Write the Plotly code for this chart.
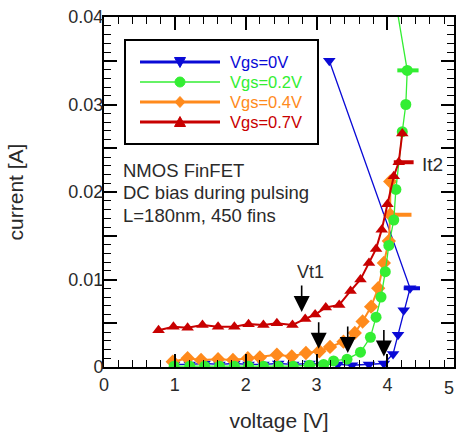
import plotly.graph_objects as go

# ---------------- data ----------------
series_names = ["Vgs=0V", "Vgs=0.2V", "Vgs=0.4V", "Vgs=0.7V"]

blue_v = [0.99, 1.21, 1.42, 1.63, 1.84, 2.04, 2.25, 2.46, 2.67, 2.90, 3.10, 3.30, 3.50, 3.74, 3.95, 4.08, 4.15, 4.23, 4.32, 3.18]
blue_i = [0.0003, 0.0003, 0.0004, 0.0003, 0.0004, 0.0003, 0.0003, 0.0004, 0.0003, 0.0004, 0.0003, 0.0003, 0.0002, 0.0003, 0.0004, 0.0015, 0.0037, 0.0065, 0.0090, 0.0350]

green_v = [0.99, 1.21, 1.42, 1.63, 1.84, 2.04, 2.25, 2.46, 2.67, 2.90, 3.10, 3.24, 3.43, 3.62, 3.76, 3.84, 3.91, 3.97, 4.02, 4.09, 4.12, 4.21, 4.26, 4.28, 4.05]
green_i = [0.0001, 0.0001, 0.0001, 0.0001, 0.0001, 0.0001, 0.0001, 0.0001, 0.0001, 0.0002, 0.0003, 0.0007, 0.0009, 0.0017, 0.0034, 0.0057, 0.0080, 0.0109, 0.0139, 0.0168, 0.0203, 0.0269, 0.0300, 0.0339, 0.0450]

orange_v = [0.97, 1.18, 1.37, 1.61, 1.82, 2.03, 2.20, 2.44, 2.65, 2.85, 3.04, 3.19, 3.38, 3.54, 3.65, 3.77, 3.87, 3.95, 4.02, 4.04, 4.04]
orange_i = [0.0006, 0.0010, 0.0008, 0.0009, 0.0008, 0.0010, 0.0011, 0.0014, 0.0012, 0.0016, 0.0018, 0.0023, 0.0029, 0.0039, 0.0052, 0.0069, 0.0090, 0.0119, 0.0144, 0.0174, 0.0212]

red_v = [0.77, 0.98, 1.18, 1.39, 1.61, 1.84, 2.04, 2.25, 2.44, 2.66, 2.84, 2.98, 3.13, 3.32, 3.48, 3.62, 3.74, 3.84, 3.92, 4.00, 4.09, 4.16, 4.21]
red_i = [0.0042, 0.0046, 0.0045, 0.0048, 0.0046, 0.0046, 0.0049, 0.0048, 0.0050, 0.0048, 0.0055, 0.0060, 0.0068, 0.0071, 0.0087, 0.0100, 0.0119, 0.0135, 0.0157, 0.0186, 0.0218, 0.0234, 0.0267]

# It2 points (index into each series) and horizontal bar extents [V]
it2_index = {"blue": 18, "green": 23, "orange": 19, "red": 21}
it2_plus = {"blue": 0.14, "green": 0.16, "orange": 0.30, "red": 0.21}
it2_minus = {"blue": 0.09, "green": 0.14, "orange": 0.05, "red": 0.07}

# Vt1 arrows (tip positions)
vt1_v = [2.79, 3.03, 3.44, 3.95]
vt1_i = [0.0063, 0.0021, 0.0016, 0.0012]

x_tickvals = [0, 1, 2, 3, 4, 5]
y_tickvals = [0, 0.005, 0.01, 0.015, 0.02, 0.025, 0.03, 0.035, 0.04]
y_ticktext = ["0", "", "0.01", "", "0.02", "", "0.03", "", "0.04"]

info_lines = ["NMOS FinFET", "DC bias during pulsing", "L=180nm, 450 fins"]

# ---------------- style ----------------
FONT = "Liberation Sans, Arial, Helvetica, sans-serif"
TXT = "#2a2a2a"
colors = {"blue": "#0a0ad6", "green": "#33ee33", "orange": "#ff8a1c", "red": "#c80000"}
symbols = {"blue": "triangle-down", "green": "circle", "orange": "diamond", "red": "triangle-up"}
msize = {"blue": 11, "green": 11, "orange": 11, "red": 11}
lwidth = {"blue": 1.3, "green": 1.3, "orange": 2.0, "red": 2.0}
data = {"blue": (blue_v, blue_i), "green": (green_v, green_i),
        "orange": (orange_v, orange_i), "red": (red_v, red_i)}
keys = ["blue", "green", "orange", "red"]

W, H = 456, 432
PL, PR, PT, PB = 104, 454, 17, 367   # plot area in window pixels


def px(sx):
    return (sx - PL) / (PR - PL)


def py(sy):
    return (PB - sy) / (PB - PT)


fig = go.Figure()

# data traces in drawing order (bottom -> top)
for k in ["blue", "orange", "green", "red"]:
    v, i = data[k]
    plus = [0.0] * len(v)
    minus = [0.0] * len(v)
    plus[it2_index[k]] = it2_plus[k]
    minus[it2_index[k]] = it2_minus[k]
    fig.add_trace(go.Scatter(
        x=v, y=i, mode="lines+markers", showlegend=False,
        line=dict(color=colors[k], width=lwidth[k]),
        marker=dict(symbol=symbols[k], size=msize[k], color=colors[k]),
        error_x=dict(type="data", symmetric=False, array=plus, arrayminus=minus,
                     color=colors[k], thickness=4, width=0),
    ))

# Vt1 arrows
for xv, yv in zip(vt1_v, vt1_i):
    fig.add_annotation(x=xv, y=yv, xref="x", yref="y", text="", showarrow=True,
                       ax=0, ay=-28, arrowhead=2, arrowsize=2.0, arrowwidth=1.6,
                       arrowcolor="black")

fig.add_annotation(x=2.92, y=0.0109, xref="x", yref="y", text="Vt1", showarrow=False,
                   font=dict(family=FONT, size=18, color=TXT))
fig.add_annotation(x=4.46, y=0.0231, xref="x", yref="y", text="It2", showarrow=False,
                   xanchor="left", font=dict(family=FONT, size=19, color=TXT))
for n, line in enumerate(info_lines):
    fig.add_annotation(x=px(121), y=py(170 + 22.5 * n), xref="paper", yref="paper",
                       xanchor="left", yanchor="middle", showarrow=False, text=line,
                       font=dict(family=FONT, size=18.5, color=TXT))
# tick label "5" at the right edge (kept fully inside the picture)
fig.add_annotation(x=px(456), y=py(388), xref="paper", yref="paper", text="5",
                   showarrow=False, xanchor="right", yanchor="middle",
                   font=dict(family=FONT, size=18, color=TXT))

# ---------------- hand-drawn legend (long sample lines as in the original) ----------------
shapes = [dict(type="rect", xref="paper", yref="paper", x0=px(125), x1=px(318),
               y0=py(144), y1=py(40), line=dict(color="black", width=2),
               fillcolor="white", layer="above")]
leg_y = [62, 82, 102, 122]
for k, name, sy in zip(keys, series_names, leg_y):
    shapes.append(dict(type="line", xref="paper", yref="paper", x0=px(140), x1=px(220),
                       y0=py(sy), y1=py(sy), layer="above",
                       line=dict(color=colors[k], width=3 if k != "green" else 1.5)))
    cx = 180
    if k == "green":
        shapes.append(dict(type="circle", xref="paper", yref="paper", x0=px(cx - 5),
                           x1=px(cx + 5), y0=py(sy + 5), y1=py(sy - 5), layer="above",
                           fillcolor=colors[k], line=dict(color=colors[k], width=1)))
    else:
        if k == "blue":
            pts = [(cx - 5.5, sy - 4.5), (cx + 5.5, sy - 4.5), (cx, sy + 5.5)]
        elif k == "red":
            pts = [(cx - 5.5, sy + 4.5), (cx + 5.5, sy + 4.5), (cx, sy - 5.5)]
        else:
            pts = [(cx, sy - 5.5), (cx + 5, sy), (cx, sy + 5.5), (cx - 5, sy)]
        path = "M " + " L ".join(f"{px(a):.5f},{py(b):.5f}" for a, b in pts) + " Z"
        shapes.append(dict(type="path", xref="paper", yref="paper", path=path,
                           layer="above", fillcolor=colors[k],
                           line=dict(color=colors[k], width=1)))
    fig.add_annotation(x=px(228), y=py(sy), xref="paper", yref="paper", xanchor="left",
                       yanchor="middle", showarrow=False, text=name,
                       font=dict(family=FONT, size=16.5, color=colors[k]))

axis_common = dict(showline=True, linecolor="black", linewidth=2, mirror="allticks",
                   ticks="inside", tickcolor="black", tickwidth=1.5, ticklen=13,
                   showgrid=False, zeroline=False, automargin=False,
                   ticklabeloverflow="allow",
                   tickfont=dict(family=FONT, size=18, color=TXT))

fig.update_layout(
    width=W, height=H,
    margin=dict(l=PL, r=W - PR, t=PT, b=H - PB),
    plot_bgcolor="white", paper_bgcolor="white",
    font=dict(family=FONT, color=TXT),
    showlegend=False,
    shapes=shapes,
    xaxis=dict(range=[0, 4.94], tickmode="array", tickvals=x_tickvals,
               ticktext=[str(t) for t in x_tickvals],
               minor=dict(dtick=0.2, tick0=0, ticks="inside", ticklen=7,
                          tickcolor="black", tickwidth=1.3),
               title=dict(text="voltage [V]", font=dict(family=FONT, size=21, color=TXT),
                          standoff=21),
               **axis_common),
    yaxis=dict(range=[0, 0.04], tickmode="array", tickvals=y_tickvals, ticktext=y_ticktext,
               minor=dict(dtick=0.001, tick0=0, ticks="inside", ticklen=7,
                          tickcolor="black", tickwidth=1.3),
               ticklabelstandoff=-5,
               title=dict(text="current [A]", font=dict(family=FONT, size=21, color=TXT),
                          standoff=39),
               **axis_common),
)

# remove the default 8px page margin so the figure fills the window exactly
fig.write_html("out.html", config={"displayModeBar": False},
               post_script="document.body.style.margin='0px';")
